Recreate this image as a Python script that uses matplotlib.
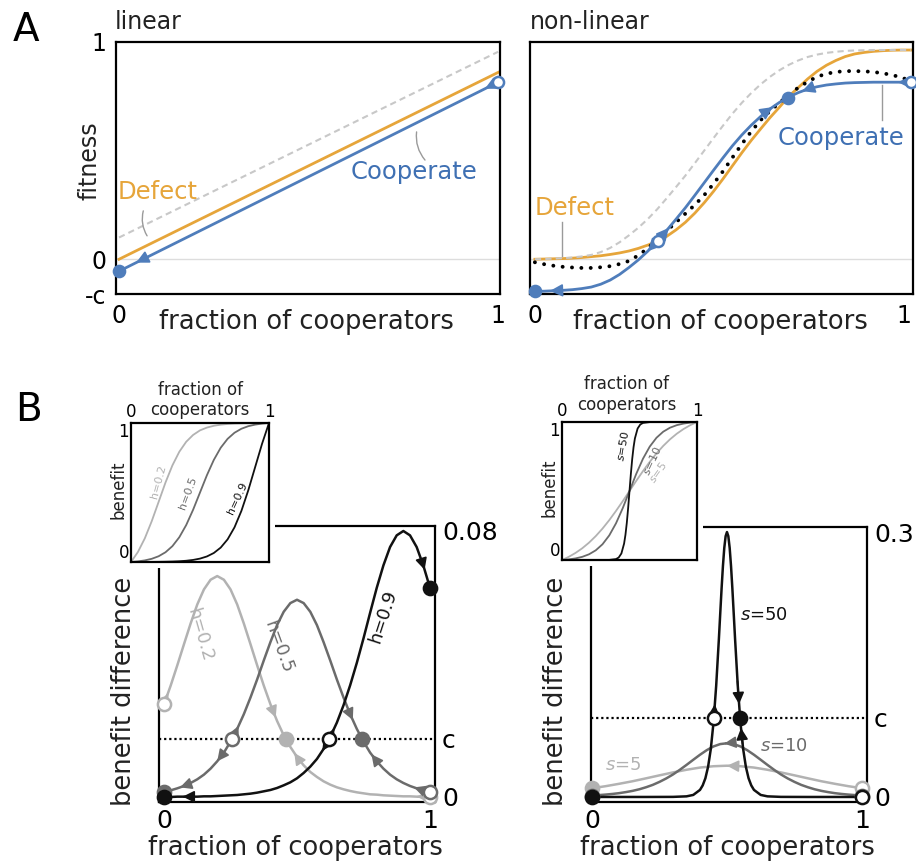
import numpy as np
import matplotlib.pyplot as plt
from matplotlib.patches import Rectangle

# ---------------- data ----------------
# A, linear game
lin_x = [0.0, 1.0]
lin_gray = [0.10, 0.955]
lin_defect = [0.0, 0.86]
lin_coop = [-0.055, 0.815]
cost_a = 0.16

# A, non-linear game (0.025 steps)
nl_x = np.linspace(0, 1, 41)
nl_gray = [0.0, 0.001, 0.003, 0.005, 0.008, 0.013, 0.02, 0.033, 0.052, 0.078, 0.11,
           0.145, 0.185, 0.23, 0.28, 0.332, 0.385, 0.442, 0.50, 0.558, 0.615, 0.67,
           0.72, 0.765, 0.805, 0.84, 0.87, 0.895, 0.915, 0.931, 0.942, 0.95, 0.955,
           0.959, 0.961, 0.962, 0.963, 0.963, 0.963, 0.963, 0.963]
nl_defect = [0.0, 0.001, 0.002, 0.003, 0.005, 0.008, 0.012, 0.016, 0.022, 0.029, 0.038,
             0.050, 0.065, 0.083, 0.105, 0.135, 0.17, 0.212, 0.26, 0.313, 0.37, 0.43,
             0.49, 0.547, 0.60, 0.652, 0.70, 0.75, 0.79, 0.83, 0.865, 0.893, 0.915,
             0.933, 0.945, 0.952, 0.957, 0.96, 0.962, 0.963, 0.963]
nl_coop = [-0.148, -0.147, -0.145, -0.143, -0.140, -0.135, -0.128, -0.115, -0.096, -0.070,
           -0.038, -0.003, 0.037, 0.082, 0.132, 0.184, 0.237, 0.294, 0.352, 0.41, 0.467,
           0.522, 0.572, 0.617, 0.657, 0.692, 0.722, 0.747, 0.767, 0.783, 0.794, 0.802,
           0.807, 0.811, 0.813, 0.814, 0.815, 0.815, 0.815, 0.815, 0.815]
nl_mean = [-0.014, -0.023, -0.03, -0.035, -0.038, -0.04, -0.04, -0.037, -0.032, -0.022,
           -0.008, 0.018, 0.05, 0.09, 0.13, 0.17, 0.21, 0.25, 0.295, 0.348, 0.405, 0.468,
           0.53, 0.588, 0.64, 0.683, 0.72, 0.757, 0.79, 0.817, 0.84, 0.854, 0.862, 0.866,
           0.866, 0.865, 0.862, 0.856, 0.848, 0.836, 0.82]

# B left, benefit difference for h = 0.2, 0.5, 0.9 (0.025 steps)
bx = np.linspace(0, 1, 41)
h02 = [0.0278, 0.0334, 0.0395, 0.0458, 0.0520, 0.0577, 0.0622, 0.0651, 0.0662, 0.0651,
       0.0622, 0.0577, 0.0520, 0.0458, 0.0395, 0.0334, 0.0278, 0.0228, 0.0185, 0.0150,
       0.0120, 0.0095, 0.0075, 0.0060, 0.0047, 0.0037, 0.0029, 0.0023, 0.0018, 0.0014,
       0.0011, 0.0008, 0.0007, 0.0005, 0.0004, 0.0003, 0.0002, 0.0002, 0.0001, 0.0001, 0.0001]
h05 = [0.0016, 0.0020, 0.0026, 0.0033, 0.0042, 0.0053, 0.0067, 0.0085, 0.0107, 0.0133,
       0.0166, 0.0204, 0.0248, 0.0298, 0.0352, 0.0409, 0.0464, 0.0515, 0.0555, 0.0581,
       0.0591, 0.0581, 0.0555, 0.0515, 0.0464, 0.0409, 0.0352, 0.0298, 0.0248, 0.0204,
       0.0166, 0.0133, 0.0107, 0.0085, 0.0067, 0.0053, 0.0042, 0.0033, 0.0026, 0.0020, 0.0016]
h09 = [0.0, 0.0, 0.0001, 0.0001, 0.0001, 0.0001, 0.0002, 0.0002, 0.0003, 0.0004,
       0.0005, 0.0006, 0.0008, 0.0010, 0.0013, 0.0017, 0.0021, 0.0027, 0.0035, 0.0044,
       0.0056, 0.0072, 0.0091, 0.0114, 0.0144, 0.0180, 0.0223, 0.0275, 0.0335, 0.0402,
       0.0475, 0.0552, 0.0627, 0.0694, 0.0749, 0.0784, 0.0797, 0.0784, 0.0749, 0.0694, 0.0627]
cost_bl = 0.0174

# B right, benefit difference for s = 5, 10, 50
s5_x = np.linspace(0, 1, 21)
s5 = [0.0099, 0.0122, 0.0149, 0.0178, 0.0211, 0.0245, 0.0278, 0.0308, 0.0333, 0.0348, 0.0354,
      0.0348, 0.0333, 0.0308, 0.0278, 0.0245, 0.0211, 0.0178, 0.0149, 0.0122, 0.0099]
s10 = [0.0016, 0.0021, 0.0027, 0.0034, 0.0043, 0.0055, 0.0069, 0.0087, 0.0110, 0.0137,
       0.0171, 0.0210, 0.0255, 0.0307, 0.0363, 0.0421, 0.0478, 0.0530, 0.0572, 0.0599,
       0.0608, 0.0599, 0.0572, 0.0530, 0.0478, 0.0421, 0.0363, 0.0307, 0.0255, 0.0210,
       0.0171, 0.0137, 0.0110, 0.0087, 0.0069, 0.0055, 0.0043, 0.0034, 0.0027, 0.0021, 0.0016]
s50_x = [0.0, 0.1, 0.2, 0.3, 0.35, 0.375, 0.4, 0.41, 0.42, 0.43, 0.44, 0.45, 0.46, 0.47,
         0.475, 0.48, 0.485, 0.49, 0.495, 0.5, 0.505, 0.51, 0.515, 0.52, 0.525, 0.53,
         0.54, 0.55, 0.56, 0.57, 0.58, 0.59, 0.6, 0.625, 0.65, 0.7, 0.8, 0.9, 1.0]
s50 = [0.0, 0.0, 0.0, 0.0001, 0.0007, 0.0023, 0.0080, 0.0131, 0.0212, 0.0342, 0.0542,
       0.0841, 0.126, 0.1789, 0.2077, 0.2359, 0.2615, 0.282, 0.2953, 0.300, 0.2953,
       0.282, 0.2615, 0.2359, 0.2077, 0.1789, 0.126, 0.0841, 0.0542, 0.0342, 0.0212,
       0.0131, 0.0080, 0.0023, 0.0007, 0.0001, 0.0, 0.0, 0.0]
cost_br = 0.0895

# insets: benefit curves
ins_x = np.linspace(0, 1, 21)
b_h02 = [0, 0.0718, 0.170, 0.293, 0.432, 0.572, 0.695, 0.793, 0.865, 0.914, 0.947,
         0.967, 0.980, 0.988, 0.993, 0.996, 0.9975, 0.9986, 0.9993, 0.9997, 1.0]
b_h05 = [0, 0.0044, 0.0115, 0.0229, 0.0413, 0.0701, 0.1140, 0.1781, 0.2658, 0.3758, 0.5,
         0.6242, 0.7342, 0.8219, 0.886, 0.9299, 0.9587, 0.9771, 0.9885, 0.9956, 1.0]
b_h09 = [0, 0.0001, 0.0003, 0.0006, 0.0011, 0.0019, 0.0032, 0.0054, 0.0090, 0.0149, 0.0244,
         0.0399, 0.0647, 0.1036, 0.1629, 0.2494, 0.3677, 0.5163, 0.6839, 0.8515, 1.0]
b_s5 = [0, 0.0229, 0.0511, 0.0850, 0.1256, 0.1731, 0.2276, 0.2887, 0.3556, 0.4266, 0.5,
        0.5734, 0.6444, 0.7113, 0.7724, 0.8269, 0.8744, 0.9150, 0.9489, 0.9771, 1.0]
b_s10 = [0, 0.0044, 0.0115, 0.0229, 0.0413, 0.0701, 0.1140, 0.1781, 0.2658, 0.3758, 0.5,
         0.6242, 0.7342, 0.8219, 0.886, 0.9299, 0.9587, 0.9771, 0.9885, 0.9956, 1.0]
b_s50_x = [0, 0.3, 0.35, 0.4, 0.42, 0.44, 0.46, 0.47, 0.48, 0.49, 0.5, 0.51, 0.52, 0.53,
           0.54, 0.56, 0.58, 0.6, 0.65, 0.7, 1.0]
b_s50 = [0, 0.0, 0.0006, 0.0067, 0.018, 0.0474, 0.1192, 0.1824, 0.2689, 0.3775, 0.5,
         0.6225, 0.7311, 0.8176, 0.8808, 0.9526, 0.982, 0.9933, 0.9994, 1.0, 1.0]

BLUE = '#4f7dbb'
ORANGE = '#e6a53a'
LIGHT = '#b2b2b2'
MID = '#6b6b6b'
DARK = '#111111'

fig = plt.figure(figsize=(9.16, 8.66), dpi=100)


def px_axes(x0, y0, x1, y1, **kw):
    # axes placed by its pixel box on the 916x866 canvas
    return fig.add_axes([x0 / 916, 1 - y1 / 866, (x1 - x0) / 916, (y1 - y0) / 866], **kw)


def frame(ax):
    for sp in ax.spines.values():
        sp.set_linewidth(1.6)
        sp.set_color('black')


def add_arrows(ax, x, y, ref, where, color, size=15, lw=1.3):
    for xp in where:
        yp = np.interp(xp, x, y)
        r = ref if np.isscalar(ref) else np.interp(xp, x, ref)
        d = np.sign(yp - r)
        x0 = xp - d * 0.006
        ax.annotate('', xy=(xp, yp), xytext=(x0, np.interp(x0, x, y)),
                    arrowprops=dict(arrowstyle='-|>,head_length=0.5,head_width=0.25',
                                    color=color, lw=lw, shrinkA=0, shrinkB=0,
                                    mutation_scale=size), zorder=5)


def add_equilibria(ax, x, y, ref, color, ms=9):
    x = np.asarray(x, float)
    y = np.asarray(y, float)
    r = np.full_like(y, ref) if np.isscalar(ref) else np.asarray(ref, float)
    d = y - r
    pts = [(x[0], y[0], d[0] < 0)]
    for i in range(len(x) - 1):
        if (d[i] > 0) != (d[i + 1] > 0):
            t = d[i] / (d[i] - d[i + 1])
            pts.append((x[i] + t * (x[i + 1] - x[i]), y[i] + t * (y[i + 1] - y[i]), d[i] > 0))
    pts.append((x[-1], y[-1], d[-1] > 0))
    for xe, ye, stable in pts:
        ax.plot(xe, ye, 'o', ms=ms, mfc=color if stable else 'white', mec=color,
                mew=1.8, clip_on=False, zorder=6)


# ---------------- panel A, linear ----------------
ax = px_axes(116, 42, 500, 294)
frame(ax)
ax.set_xlim(-0.008, 1.005)
ax.set_ylim(-cost_a, 1.0)
ax.axhline(0, color='#dddddd', lw=1, zorder=0)
ax.plot(lin_x, lin_gray, color='#c8c8c8', lw=1.5, ls=(0, (3, 2)))
ax.plot(lin_x, lin_defect, color=ORANGE, lw=2)
ax.plot(lin_x, lin_coop, color=BLUE, lw=2)
add_arrows(ax, lin_x, lin_coop, np.asarray(lin_defect), [0.045, 0.965], BLUE)
add_equilibria(ax, lin_x, lin_coop, lin_defect, BLUE, ms=8)
ax.set_xticks([0, 1])
ax.set_xticklabels(['0', '1'])
ax.set_yticks([-cost_a, 0, 1])
ax.set_yticklabels(['-c', '0', '1'])
ax.tick_params(length=0, labelsize=17, pad=7)
ax.text(0.495, -0.11, 'fraction of cooperators', transform=ax.transAxes,
        ha='center', va='center', fontsize=18.5, color='#222')
ax.text(-0.07, 0.53, 'fitness', rotation=90, transform=ax.transAxes,
        ha='center', va='center', fontsize=17, color='#222')
ax.text(-0.003, 0.31, 'Defect', color=ORANGE, fontsize=17.5, va='center')
ax.text(0.61, 0.40, 'Cooperate', color='#3f70b3', fontsize=17.5, va='center')
ax.annotate('', xy=(0.078, np.interp(0.078, lin_x, lin_defect) + 0.03), xytext=(0.066, 0.235),
            arrowprops=dict(arrowstyle='-', color='#9a9a9a', lw=1,
                            connectionstyle='arc3,rad=0.25'))
ax.annotate('', xy=(0.812, 0.447), xytext=(0.786, np.interp(0.786, lin_x, lin_coop) - 0.03),
            arrowprops=dict(arrowstyle='-', color='#9a9a9a', lw=1,
                            connectionstyle='arc3,rad=0.25'))

# ---------------- panel A, non-linear ----------------
ax = px_axes(530, 42, 913, 294)
frame(ax)
ax.set_xlim(-0.013, 1.005)
ax.set_ylim(-cost_a, 1.0)
ax.axhline(0, color='#dddddd', lw=1, zorder=0)
ax.plot(nl_x, nl_defect, color=ORANGE, lw=2)
ax.plot(nl_x, nl_gray, color='#c8c8c8', lw=1.5, ls=(0, (3, 2)))
ax.plot(nl_x, nl_mean, color='black', lw=2.8, ls=(0, (0.01, 2.4)), dash_capstyle='round')
ax.plot(nl_x, nl_coop, color=BLUE, lw=2)
add_arrows(ax, nl_x, nl_coop, np.asarray(nl_defect), [0.04, 0.3, 0.356, 0.632, 0.71, 0.965], BLUE)
add_equilibria(ax, nl_x, nl_coop, nl_defect, BLUE, ms=8)
ax.set_xticks([0, 1])
ax.set_xticklabels(['0', '1'])
ax.get_xticklabels()[1].set_ha('right')
ax.set_yticks([])
ax.tick_params(length=0, labelsize=17, pad=7)
ax.text(0.497, -0.11, 'fraction of cooperators', transform=ax.transAxes,
        ha='center', va='center', fontsize=18.5, color='#222')
ax.text(0.0, 0.235, 'Defect', color=ORANGE, fontsize=17.5, va='center')
ax.text(0.644, 0.557, 'Cooperate', color='#3f70b3', fontsize=17.5, va='center')
ax.plot([0.072, 0.072], [0.17, np.interp(0.072, nl_x, nl_defect) + 0.012], color='#9a9a9a', lw=1)
ax.plot([0.923, 0.923], [np.interp(0.923, nl_x, nl_coop) - 0.015, 0.64], color='#9a9a9a', lw=1)

fig.text(13 / 916, 1 - 30 / 866, 'A', fontsize=28, va='center')
fig.text(115 / 916, 1 - 22 / 866, 'linear', fontsize=17, va='center', color='#222')
fig.text(530 / 916, 1 - 22 / 866, 'non-linear', fontsize=17, va='center', color='#222')
fig.text(15 / 916, 1 - 410 / 866, 'B', fontsize=28, va='center')


def b_main(ax, cost, top, toplabel):
    frame(ax)
    ax.axhline(cost, color='black', lw=1.6, ls=(0, (1, 1.3)), zorder=1)
    ax.set_xticks([0, 1])
    ax.set_xticklabels(['0', '1'])
    ax.yaxis.tick_right()
    ax.set_yticks([0, cost, top])
    ax.set_yticklabels(['0', 'c', toplabel])
    ax.tick_params(length=0, labelsize=18, pad=5)
    ax.text(0.496, -0.167, 'fraction of cooperators', transform=ax.transAxes,
            ha='center', va='center', fontsize=18.5, color='#222')
    ax.text(-0.127, 0.402, 'benefit difference', rotation=90, transform=ax.transAxes,
            ha='center', va='center', fontsize=18.5, color='#222')


def b_inset(ax):
    frame(ax)
    ax.set_xlim(0, 1)
    ax.set_ylim(0, 1)
    ax.xaxis.tick_top()
    ax.set_xticks([0, 1])
    ax.set_xticklabels(['0', '1'])
    ax.set_yticks([0, 1])
    ax.set_yticklabels(['0', '1'])
    ax.tick_params(length=0, labelsize=12, pad=1.5)
    for lab, va in zip(ax.get_yticklabels(), ['bottom', 'top']):
        lab.set_va(va)
    ax.text(-0.09, 0.52, 'benefit', rotation=90, transform=ax.transAxes,
            ha='center', va='center', fontsize=12, color='#222')


# ---------------- panel B, left ----------------
ax = px_axes(159, 526, 435, 802, zorder=0)
ax.set_xlim(-0.019, 1.019)
ax.set_ylim(-0.0015, 0.0812)
b_main(ax, cost_bl, 0.08, '0.08')
for yv, col, where in [(h02, LIGHT, [0.015, 0.42, 0.49, 0.95]),
                       (h05, MID, [0.06, 0.2, 0.28, 0.71, 0.78, 0.94]),
                       (h09, DARK, [0.07, 0.595, 0.64, 0.98])]:
    ax.plot(bx, yv, color=col, lw=1.8, zorder=3)
    add_arrows(ax, bx, yv, cost_bl, where, col, size=14, lw=1.2)
for yv, col in [(h02, LIGHT), (h05, MID), (h09, DARK)]:
    add_equilibria(ax, bx, yv, cost_bl, col, ms=9.5)
ax.text(0.135, 0.0485, 'h=0.2', rotation=-74, color=LIGHT, fontsize=13, ha='center', va='center')
ax.text(0.43, 0.045, 'h=0.5', rotation=-70, color=MID, fontsize=13, ha='center', va='center')
ax.text(0.823, 0.054, 'h=0.9', rotation=72, color=DARK, fontsize=13, ha='center', va='center')

fig.patches.append(Rectangle((125 / 916, 1 - 568 / 866), 150 / 916, 151 / 866,
                             transform=fig.transFigure, facecolor='white',
                             edgecolor='none', zorder=1))
ins = px_axes(131, 423, 269, 562, zorder=2)
b_inset(ins)
ins.plot(ins_x, b_h02, color=LIGHT, lw=1.3)
ins.plot(ins_x, b_h05, color=MID, lw=1.3)
ins.plot(ins_x, b_h09, color=DARK, lw=1.3)
ins.text(0.5, 1.165, 'fraction of\ncooperators', transform=ins.transAxes, ha='center',
         va='center', fontsize=12, color='#222')
ins.text(0.196, 0.576, 'h=0.2', rotation=75, color=LIGHT, fontsize=8, ha='center', va='center')
ins.text(0.41, 0.50, 'h=0.5', rotation=70, color=MID, fontsize=8, ha='center', va='center')
ins.text(0.775, 0.46, 'h=0.9', rotation=65, color=DARK, fontsize=8, ha='center', va='center')

# ---------------- panel B, right ----------------
ax = px_axes(591, 527, 867, 802, zorder=0)
ax.set_xlim(-0.004, 1.019)
ax.set_ylim(-0.0057, 0.3057)
b_main(ax, cost_br, 0.3, '0.3')
for xv, yv, col, where in [(s5_x, s5, LIGHT, [0.5]),
                           (bx, s10, MID, [0.49]),
                           (s50_x, s50, DARK, [0.448, 0.455, 0.545, 0.552])]:
    ax.plot(xv, yv, color=col, lw=1.8, zorder=3)
    add_arrows(ax, xv, yv, cost_br, where, col, size=14, lw=1.2)
for xv, yv, col in [(s5_x, s5, LIGHT), (bx, s10, MID), (s50_x, s50, DARK)]:
    add_equilibria(ax, xv, yv, cost_br, col, ms=9.5)
ax.text(0.548, 0.206, '$s$=50', color=DARK, fontsize=13, va='center')
ax.text(0.622, 0.058, '$s$=10', color=MID, fontsize=13, va='center')
ax.text(0.048, 0.036, '$s$=5', color=LIGHT, fontsize=13, va='center')

fig.patches.append(Rectangle((556 / 916, 1 - 566 / 866), 147 / 916, 150 / 866,
                             transform=fig.transFigure, facecolor='white',
                             edgecolor='none', zorder=1))
ins = px_axes(562, 422, 697, 560, zorder=2)
b_inset(ins)
ins.plot(ins_x, b_s5, color=LIGHT, lw=1.3)
ins.plot(ins_x, b_s10, color=MID, lw=1.3)
ins.plot(b_s50_x, b_s50, color=DARK, lw=1.3)
ins.text(0.48, 1.2, 'fraction of\ncooperators', transform=ins.transAxes, ha='center',
         va='center', fontsize=12, color='#222')
ins.text(0.45, 0.83, '$s$=50', rotation=80, color=DARK, fontsize=8, ha='center', va='center')
ins.text(0.67, 0.72, '$s$=10', rotation=65, color=MID, fontsize=8, ha='center', va='center')
ins.text(0.71, 0.64, '$s$=5', rotation=55, color=LIGHT, fontsize=8, ha='center', va='center')

fig.savefig('out.png', dpi=100)
